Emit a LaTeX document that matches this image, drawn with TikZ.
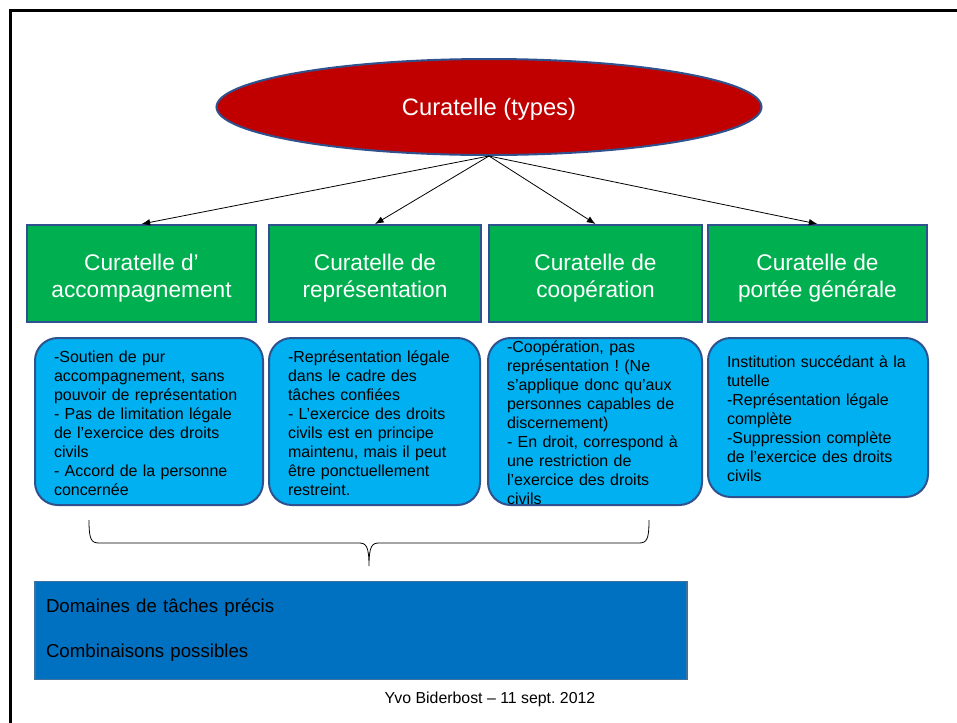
\documentclass[tikz,border=0pt]{standalone}
\usepackage{fontspec}
\setmainfont{Liberation Sans}
\usetikzlibrary{arrows.meta,shapes.geometric}
\frenchspacing

\definecolor{curred}{RGB}{192,0,0}
\definecolor{curgreen}{RGB}{0,176,80}
\definecolor{curcyan}{RGB}{0,176,240}
\definecolor{curblue}{RGB}{0,112,192}
\definecolor{curedge}{RGB}{47,82,143}
\definecolor{curedgelight}{RGB}{65,113,156}

\tikzset{
	typehead/.style={ellipse, draw=curedge, line width=1.5pt, fill=curred,
		minimum width=408.75pt, minimum height=72pt, inner sep=0pt},
	headtext/.style={inner sep=0pt, text=white, font=\fontsize{17.8}{21}\selectfont},
	typebox/.style={rectangle, draw=curedge, line width=1.5pt, fill=curgreen,
		minimum height=72.75pt, inner sep=0pt},
	typetext/.style={inner sep=0pt, text=white, align=center,
		font=\fontsize{17}{20.25}\selectfont},
	infobox/.style={rectangle, rounded corners=17pt, draw=curedge, line width=1.5pt,
		fill=curcyan, inner sep=0pt},
	infotext/.style={inner sep=0pt, align=left, text=black,
		font=\fontsize{12}{14.25}\selectfont},
	tasksbox/.style={rectangle, draw=curedgelight, line width=1.2pt, fill=curblue,
		minimum width=489pt, minimum height=73.5pt, inner xsep=8.25pt, inner ysep=0pt,
		text width=472.5pt, align=left, font=\fontsize{14}{16.8}\selectfont},
	link/.style={-{Latex[length=6.5pt,width=5pt]}, line width=0.6pt}
}

\begin{document}
\begin{tikzpicture}[x=0.75pt, y=-0.75pt]
		\useasboundingbox (0,0) rectangle (957,722);
		\draw[line width=2.25pt] (10.5,10.5) rectangle (1000,800);

		\node[typehead] (CUR) at (489,107) {};
		\node[headtext] (CURt) at ([yshift=-1.5pt]CUR.center) {Curatelle (types)};

		\draw
		(141.5,273.5) node [typebox, minimum width=171.75pt] (ACC) {}
		(375,273.5) node [typebox, minimum width=159pt] (REP) {}
		(595.5,273.5) node [typebox, minimum width=159.75pt] (COO) {}
		(817.5,273.5) node [typebox, minimum width=164.25pt] (GEN) {};
		\node[typetext] (ACCh) at ([yshift=-3.3pt]ACC.center) {Curatelle d'\\accompagnement};
		\node[typetext] (REPh) at ([yshift=-3.3pt]REP.center) {Curatelle de\\représentation};
		\node[typetext] (COOh) at ([yshift=-3.3pt]COO.center) {Curatelle de\\coopération};
		\node[typetext] (GENh) at ([yshift=-3.3pt]GEN.center) {Curatelle de\\portée générale};
		\foreach \t in {ACC,REP,COO,GEN}
			\draw[link] (CUR.south) -- (\t.north);

		\draw
		(149,421.5) node [infobox, minimum width=171pt, minimum height=125.25pt] (ACCi) {}
		(374.5,421.5) node [infobox, minimum width=158.25pt, minimum height=125.25pt] (REPi) {}
		(595,421.5) node [infobox, minimum width=160.5pt, minimum height=125.25pt] (COOi) {}
		(818,417.5) node [infobox, minimum width=165pt, minimum height=119.25pt] (GENi) {};

		\node[infotext, text width=142.5pt] (ACCt) at ([yshift=-1pt]ACCi.center)
		{-Soutien de pur\\accompagnement, sans\\pouvoir de représentation\\- Pas de limitation légale\\de l'exercice des droits\\civils\\- Accord de la personne\\concernée};
		\node[infotext, text width=129.75pt] (REPt) at ([yshift=-1pt]REPi.center)
		{-Représentation légale\\dans le cadre des\\tâches confiées\\- L'exercice des droits\\civils est en principe\\maintenu, mais il peut\\être ponctuellement\\restreint.};
		\node[infotext, text width=132pt] (COOt) at ([yshift=-1pt]COOi.center)
		{-Coopération, pas\\représentation ! (Ne\\s'applique donc qu'aux\\personnes capables de\\discernement)\\- En droit, correspond à\\une restriction de\\l'exercice des droits\\civils};
		\node[infotext, text width=136.5pt] (GENt) at ([yshift=-1pt]GENi.center)
		{Institution succédant à la\\tutelle\\-Représentation légale\\complète\\-Suppression complète\\de l'exercice des droits\\civils};

		% accolade sous les trois premiers types
		\coordinate (BL) at (89,520);
		\coordinate (BM) at (369,566);
		\coordinate (BR) at (649,520);
		\draw[line width=0.6pt] (BL) .. controls (89,539) and (91,543) .. (99,543) -- (359,543)
			.. controls (366,543) and (369,546) .. (BM)
			.. controls (369,546) and (372,543) .. (379,543) -- (639,543)
			.. controls (647,543) and (649,539) .. (BR);

		\node[tasksbox] (TASK) at (361,630.5)
		{Domaines de tâches précis\\[16.9pt]Combinaisons possibles};

		\node[font=\fontsize{11.9}{14}\selectfont] (FOOT) at (490,699) {Yvo Biderbost -- 11 sept. 2012};
	\end{tikzpicture}
\end{document}
